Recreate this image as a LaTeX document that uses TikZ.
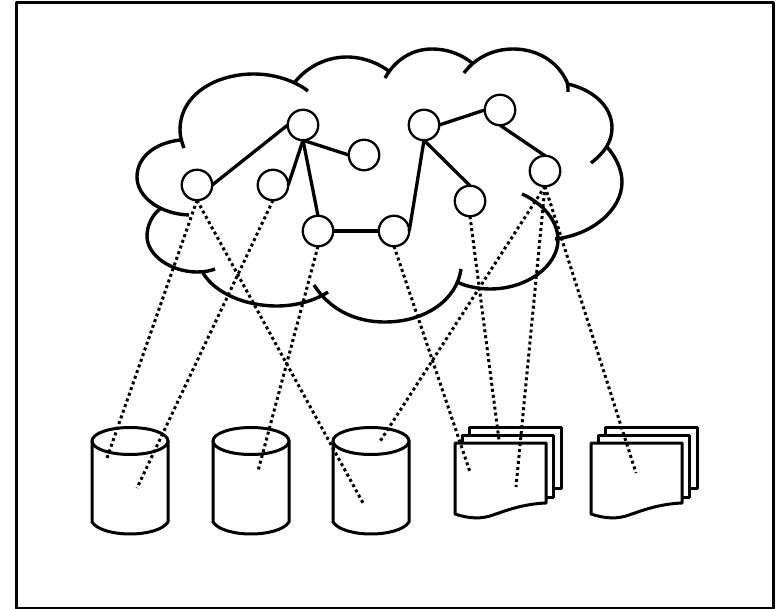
\documentclass[tikz,border=0pt]{standalone}
\begin{document}
\begin{tikzpicture}[x=1pt,y=-1pt,line join=round,
  frame/.style={draw=black,line width=3pt},
  puff/.style={draw=black,line width=3.4pt,line cap=butt},
  hub/.style={circle,draw=black,fill=white,line width=2.3pt,minimum size=30.5pt,inner sep=0pt,outer sep=0pt},
  link/.style={draw=black,line width=3.3pt},
  trace/.style={draw=black,line width=3pt,dash pattern=on 3pt off 3pt},
  store/.style={draw=black,line width=3pt,fill=white},
  sheet/.style={draw=black,line width=3pt,fill=white}]
\useasboundingbox (0,0) rectangle (776,609);
\fill[white] (0,0) rectangle (776,609);
\draw[frame] (16,3) rectangle (773,608);
% cloud
\draw[puff] (184,148) .. controls (181,140) and (180,135) .. (180,130) .. controls (180,95) and (215,74) .. (254,74) .. controls (275,74) and (295,81) .. (308,91);
\draw[puff] (180,140) .. controls (155,143) and (137,157) .. (137,177) .. controls (137,197) and (160,214) .. (189,215);
\draw[puff] (160,209) .. controls (152,215) and (147,226) .. (147,236) .. controls (147,256) and (172,272) .. (197,272) .. controls (204,272) and (210,271) .. (215,269);
\draw[puff] (203,273) .. controls (215,293) and (245,306) .. (277,306) .. controls (297,306) and (316,300) .. (328,292);
\draw[puff] (314,285) .. controls (328,307) and (352,322) .. (385,322) .. controls (425,322) and (457,300) .. (461,269);
\draw[puff] (457,282) .. controls (465,286) and (478,289) .. (490,289) .. controls (528,289) and (558,265) .. (558,240) .. controls (558,220) and (542,203) .. (522,194);
\draw[puff] (555,239) .. controls (592,235) and (622,210) .. (622,182) .. controls (622,170) and (616,157) .. (607,147);
\draw[puff] (591,163) .. controls (604,153) and (612,142) .. (612,128) .. controls (612,106) and (593,90) .. (568,84);
\draw[puff] (568,92) .. controls (568,88) and (568,85) .. (567,82) .. controls (558,62) and (538,49) .. (513,49) .. controls (493,49) and (475,58) .. (464,73);
\draw[puff] (472,63) .. controls (461,54) and (447,49) .. (432,49) .. controls (412,49) and (395,60) .. (385,78);
\draw[puff] (295,82) .. controls (307,67) and (326,57) .. (347,57) .. controls (364,57) and (380,64) .. (390,72);
% stores
\foreach \n/\l in {a/92,b/213,c/333}{
  \path[store] (\l,441) -- (\l,522) .. controls (\l+5,530) and (\l+22,534) .. (\l+38,534)
     .. controls (\l+54,534) and (\l+71,530) .. (\l+76,522) -- (\l+76,441) -- cycle;
  \draw[store] (\l+38,441) ellipse [x radius=38,y radius=13.5];
}
% sheets
\foreach \n/\d in {p/0,q/136}{
  \path[sheet] (469+\d,427) rectangle (561+\d,488);
  \path[sheet] (462+\d,435) rectangle (553+\d,497);
  \path[sheet] (455+\d,443) -- (546+\d,443) -- (546+\d,503)
     .. controls (522+\d,504) and (505+\d,511) .. (493+\d,515)
     .. controls (482+\d,519) and (470+\d,519) .. (455+\d,514) -- cycle;
}
% hubs
\node[hub] (n1) at (197,185) {};
\node[hub] (n2) at (273,185) {};
\node[hub] (n3) at (303,125) {};
\node[hub] (n4) at (364,155) {};
\node[hub] (n5) at (318,231) {};
\node[hub] (n6) at (394,231) {};
\node[hub] (n7) at (424,125) {};
\node[hub] (n8) at (500,110) {};
\node[hub] (n9) at (545,171) {};
\node[hub] (n10) at (470,201) {};
% links
\draw[link] (n1.east) -- (n3.west);
\draw[link] (n2.east) -- (n3.south);
\draw[link] (n3.south) -- (n4.west);
\draw[link] (n3.south) -- (n5.north);
\draw[link] (n5.east) -- (n6.west);
\draw[link] (n6.east) -- (n7.south);
\draw[link] (n7.east) -- (n8.west);
\draw[link] (n7.south) -- (n10.north);
\draw[link] (n8.south) -- (n9.north);
% traces
\coordinate (e1) at (107,458);
\coordinate (e2) at (363,503);
\coordinate (e3) at (137,488);
\coordinate (e4) at (258,471);
\coordinate (e5) at (470,472);
\coordinate (e6) at (499,440);
\coordinate (e7) at (379,443);
\coordinate (e8) at (516,487);
\coordinate (e9) at (636,473);
\draw[trace] (n1.south) -- (e1);
\draw[trace] (n1.south) -- (e2);
\draw[trace] (n2.south) -- (e3);
\draw[trace] (n5.south) -- (e4);
\draw[trace] (n6.south) -- (e5);
\draw[trace] (n10.south) -- (e6);
\draw[trace] (n9.south) -- (e7);
\draw[trace] (n9.south) -- (e8);
\draw[trace] (n9.south) -- (e9);
\end{tikzpicture}
\end{document}
